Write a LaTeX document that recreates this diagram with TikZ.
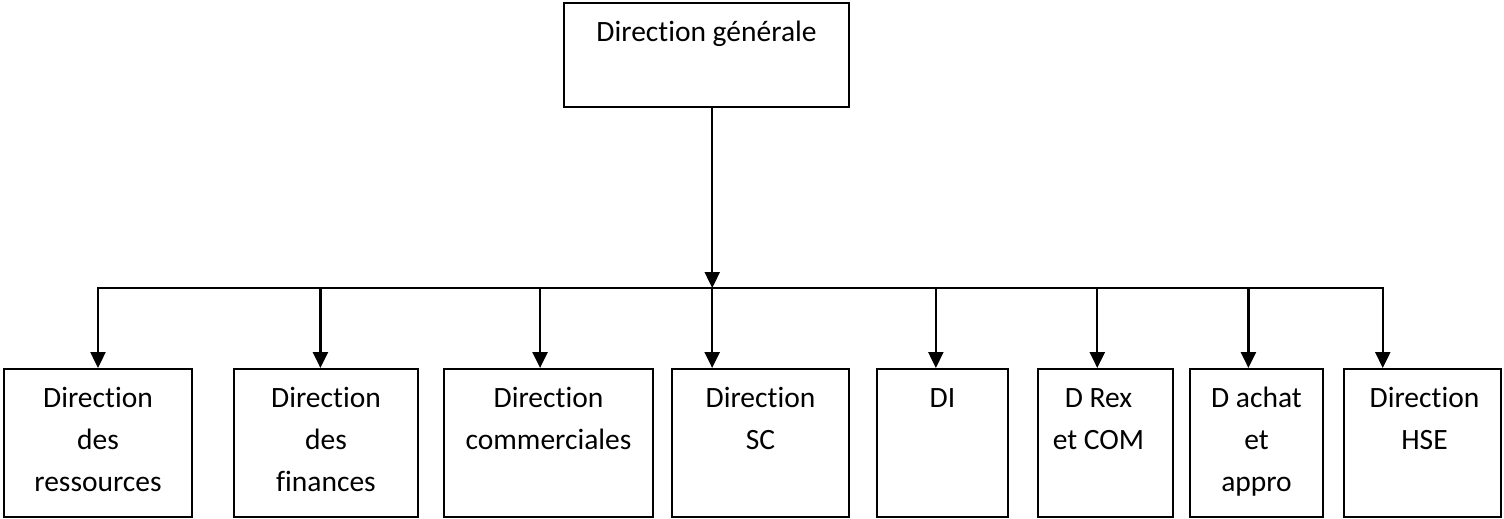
\documentclass[tikz,border=0pt]{standalone}
\usepackage{fontspec}
\setmainfont{Carlito}[Ligatures={NoCommon}]
\usetikzlibrary{arrows.meta,calc}

\tikzset{
  box/.style={draw=black, line width=2pt, fill=white, inner sep=0pt, anchor=north west},
  lbl/.style={anchor=base, inner sep=0pt},
  wire/.style={line width=2.4pt, line cap=rect},
  arr/.style={line width=2.4pt, -{Triangle[length=16pt,width=15pt]}},
}
\newcommand{\boxtext}[1]{\parbox[t]{280pt}{\centering\fontsize{29.5}{42}\selectfont #1}}

\begin{document}
\begin{tikzpicture}[x=1pt,y=-1pt]
  \useasboundingbox (0,0) rectangle (1504,519);

  % top box
  \node[box, minimum width=285pt, minimum height=104pt] (dg) at (563,2) {};
  \node[lbl] (tdg) at ($(dg.north)+(0,40)$) {\boxtext{Direction générale}};

  % departments
  \node[box, minimum width=188pt, minimum height=148pt] (b1) at (3,368) {};
  \node[box, minimum width=184pt, minimum height=148pt] (b2) at (233,368) {};
  \node[box, minimum width=209pt, minimum height=148pt] (b3) at (443,368) {};
  \node[box, minimum width=177pt, minimum height=148pt] (b4) at (671,368) {};
  \node[box, minimum width=131pt, minimum height=148pt] (b5) at (876,368) {};
  \node[box, minimum width=135pt, minimum height=148pt] (b6) at (1037,368) {};
  \node[box, minimum width=133pt, minimum height=148pt] (b7) at (1189,368) {};
  \node[box, minimum width=157pt, minimum height=148pt] (b8) at (1343,368) {};

  \node[lbl] (t1) at ($(b1.north)+(0,39)$) {\boxtext{Direction\\des\\ressources}};
  \node[lbl] (t2) at ($(b2.north)+(0,39)$) {\boxtext{Direction\\des\\finances}};
  \node[lbl] (t3) at ($(b3.north)+(0,39)$) {\boxtext{Direction\\commerciales}};
  \node[lbl] (t4) at ($(b4.north)+(0,39)$) {\boxtext{Direction\\SC}};
  \node[lbl] (t5) at ($(b5.north)+(0,39)$) {\boxtext{DI}};
  \node[lbl] (t6) at ($(b6.north)+(-7,39)$) {\boxtext{D Rex\\et COM}};
  \node[lbl] (t7) at ($(b7.north)+(0,39)$) {\boxtext{D achat\\et\\appro}};
  \node[lbl] (t8) at ($(b8.north)+(2,39)$) {\boxtext{Direction\\HSE}};

  % connector attachment points
  \coordinate (bus) at (0,288);
  \coordinate (p0) at ($(dg.south west)!0.52!(dg.south east)$);
  \coordinate (p1) at ($(b1.north west)!0.50!(b1.north east)$);
  \coordinate (p2) at ($(b2.north west)!0.47!(b2.north east)$);
  \coordinate (p3) at ($(b3.north west)!0.46!(b3.north east)$);
  \coordinate (p4) at ($(b4.north west)!0.23!(b4.north east)$);
  \coordinate (p5) at ($(b5.north west)!0.45!(b5.north east)$);
  \coordinate (p6) at ($(b6.north west)!0.44!(b6.north east)$);
  \coordinate (p7) at ($(b7.north west)!0.44!(b7.north east)$);
  \coordinate (p8) at ($(b8.north west)!0.25!(b8.north east)$);

  % connectors
  \draw[arr] (p0) -- (p0 |- bus);
  \draw[wire] (p1 |- bus) -- (p8 |- bus);
  \foreach \i in {1,...,8}{
    \draw[arr] (p\i |- bus) -- (p\i);
  }
\end{tikzpicture}
\end{document}
